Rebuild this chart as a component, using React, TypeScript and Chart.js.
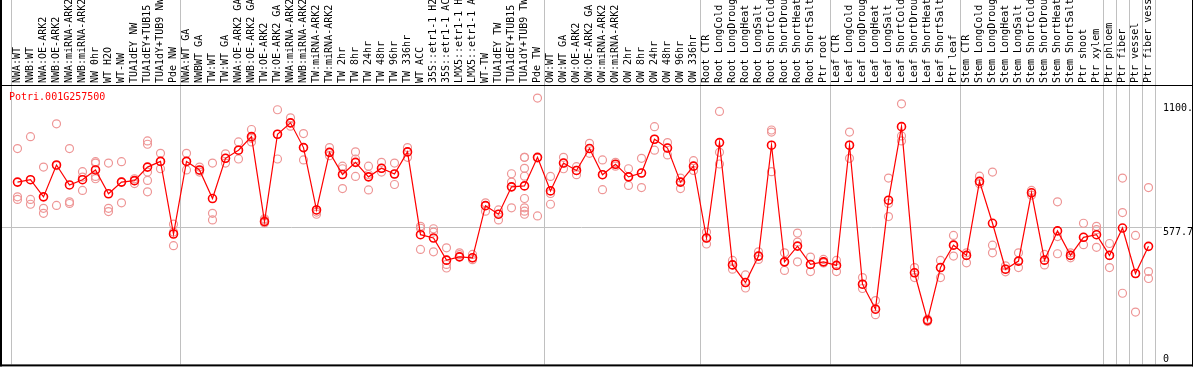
import { useEffect, useRef } from 'react';
import { Chart, registerables } from 'chart.js';

Chart.register(...registerables);

const geneId = 'Potri.001G257500';

const categories = [
  'NWA:WT', 'NWB:WT', 'NWA:OE-ARK2', 'NWB:OE-ARK2', 'NWA:miRNA-ARK2', 'NWB:miRNA-ARK2', 'NW 0hr', 'WT H2O', 'WT-NW', 'TUA1dEY NW', 'TUA1dEY+TUB15 NW', 'TUA1dY+TUB9 NW', 'Pde NW',
  'NWA:WT GA', 'NWBWT GA', 'TW:WT', 'TW:WT GA', 'NWA:OE-ARK2 GA', 'NWB:OE-ARK2 GA', 'TW:OE-ARK2', 'TW:OE-ARK2 GA', 'NWA:miRNA-ARK2 GA', 'NWB:miRNA-ARK2 GA', 'TW:miRNA-ARK2', 'TW:miRNA-ARK2 GA', 'TW 2hr', 'TW 8hr', 'TW 24hr', 'TW 48hr', 'TW 96hr', 'TW 336hr', 'WT ACC', '35S::etr1-1 H2O', '35S::etr1-1 ACC', 'LMX5::etr1-1 H2O', 'LMX5::etr1-1 ACC', 'WT-TW', 'TUA1dEY TW', 'TUA1dEY+TUB15 TW', 'TUA1dY+TUB9 TW', 'Pde TW',
  'OW:WT', 'OW:WT GA', 'OW:OE-ARK2', 'OW:OE-ARK2 GA', 'OW:miRNA-ARK2', 'OW:miRNA-ARK2 GA', 'OW 2hr', 'OW 8hr', 'OW 24hr', 'OW 48hr', 'OW 96hr', 'OW 336hr',
  'Root CTR', 'Root LongCold', 'Root LongDrought', 'Root LongHeat', 'Root LongSalt', 'Root ShortCold', 'Root ShortDrought', 'Root ShortHeat', 'Root ShortSalt', 'Ptr root',
  'Leaf CTR', 'Leaf LongCold', 'Leaf LongDrought', 'Leaf LongHeat', 'Leaf LongSalt', 'Leaf ShortCold', 'Leaf ShortDrought', 'Leaf ShortHeat', 'Leaf ShortSalt', 'Ptr leaf',
  'Stem CTR', 'Stem LongCold', 'Stem LongDrought', 'Stem LongHeat', 'Stem LongSalt', 'Stem ShortCold', 'Stem ShortDrought', 'Stem ShortHeat', 'Stem ShortSalt', 'Ptr shoot', 'Ptr xylem',
  'Ptr phloem', 'Ptr fiber', 'Ptr vessel', 'Ptr fiber vessel',
];

const groupSizes = [13, 28, 12, 10, 10, 11, 1, 1, 1, 1];

const meanValues = [
  766, 776, 704, 838, 754, 776, 817, 717, 766, 772, 829, 853, 548,
  853, 817, 697, 866, 900, 957, 600, 967, 1015, 911, 649, 891, 798, 849, 788, 824, 800, 893, 545, 531, 438, 452, 448, 667, 631, 746, 750, 870,
  729, 846, 815, 907, 797, 841, 788, 804, 946, 909, 766, 833,
  531, 932, 418, 344, 455, 921, 431, 497, 420, 431,
  416, 921, 337, 232, 690, 999, 385, 185, 407, 501,
  458, 769, 593, 400, 434, 721, 438, 561, 458, 534, 545,
  458, 573, 382, 496,
];

const replicateValues = [
  [907, 704, 693], [957, 693, 673], [829, 656, 635], [1011, 835, 668], [907, 683, 676], [810, 787, 731], [852, 846, 780, 790], [846, 656, 642], [852, 767, 679], [780, 772, 760], [939, 925, 808, 773, 725], [887, 853, 822], [589, 556, 499],
  [887, 853, 817], [829, 808, 815], [846, 635, 607], [846, 866, 885], [935, 900, 863], [987, 950, 935], [612, 607, 594], [1070, 967, 863], [1036, 1015, 1001], [970, 911, 859], [649, 640, 631], [911, 891, 877], [833, 822, 739], [893, 863, 790], [833, 798, 733], [849, 824, 808], [846, 800, 756], [911, 893, 870], [580, 572, 483], [570, 556, 473], [490, 438, 420, 405], [469, 461, 452], [462, 448, 440], [679, 667, 644], [649, 631, 607], [801, 766, 746, 658], [870, 870, 824, 791, 697, 658, 644, 631], [1119, 867, 624],
  [790, 718, 673], [870, 846, 822], [831, 815, 797], [929, 907, 887], [859, 797, 734], [849, 841, 833], [822, 788, 752], [866, 804, 743], [999, 946, 900], [932, 909, 880], [783, 766, 739], [856, 833, 815],
  [556, 531, 506], [1063, 891, 842], [437, 418, 400], [376, 344, 321], [473, 455, 441], [985, 976, 810], [469, 431, 395], [552, 514, 431], [451, 420, 390], [441, 431, 426],
  [437, 416, 390], [976, 921, 866], [365, 337, 319], [268, 232, 209], [783, 676, 621], [1095, 960, 939], [407, 385, 365], [190, 185, 180], [437, 407, 365], [542, 501, 455],
  [469, 458, 427], [791, 769, 759], [808, 501, 469], [414, 400, 389], [469, 434, 407], [731, 721, 711], [462, 438, 418], [683, 537, 465], [469, 458, 448], [593, 534, 503], [580, 566, 492],
  [508, 458, 407], [783, 638, 299], [542, 382, 220], [743, 390, 361],
];

const yMax = 1174;
const yTickValues = [0, 577.7, 1100];
const yTickLabels = ['0', '577.7', '1100.'];
const gridValue = 577.7;

const FONT = '10px "DejaVu Sans Mono", monospace';

const framePlugin = {
  id: 'frameDecor',
  beforeDatasetsDraw(chart: any) {
    const { ctx, chartArea, scales } = chart;
    const xs = scales.x;
    const ys = scales.y;
    ctx.save();
    ctx.strokeStyle = '#c0c0c0';
    ctx.lineWidth = 1;
    let idx = 0;
    const bounds = [0];
    groupSizes.forEach((s) => { idx += s; bounds.push(idx); });
    bounds.forEach((b) => {
      const px = Math.round(xs.getPixelForValue(b - 0.5)) + 0.5;
      ctx.beginPath();
      ctx.moveTo(px, 0);
      ctx.lineTo(px, chartArea.bottom);
      ctx.stroke();
    });
    const gy = Math.round(ys.getPixelForValue(gridValue)) + 0.5;
    ctx.beginPath();
    ctx.moveTo(1, gy);
    ctx.lineTo(chartArea.right + 7, gy);
    ctx.stroke();
    ctx.restore();
  },
  afterDraw(chart: any) {
    const { ctx, chartArea, scales, width } = chart;
    const ys = scales.y;
    ctx.save();
    ctx.fillStyle = '#000';
    // frame
    ctx.fillRect(0, 0, 2, chartArea.bottom + 2);
    ctx.fillRect(0, chartArea.top, width - 1, 1);
    ctx.fillRect(width - 2, 0, 1, chartArea.bottom + 2);
    ctx.fillRect(0, chartArea.bottom, width - 1, 2);
    // y labels
    ctx.font = FONT;
    ctx.textAlign = 'left';
    ctx.textBaseline = 'alphabetic';
    yTickValues.forEach((v, i) => {
      const py = ys.getPixelForValue(v);
      const base = Math.min(py + 8, chartArea.bottom - 2);
      ctx.fillText(yTickLabels[i], chartArea.right + 8, base);
    });
    // title
    ctx.fillStyle = '#ff0000';
    ctx.fillText(geneId, 9, chartArea.top + 15);
    ctx.restore();
  },
};

export default function App() {
  const canvasRef = useRef<HTMLCanvasElement | null>(null);

  useEffect(() => {
    document.body.style.margin = '0';
    const canvas = canvasRef.current;
    if (!canvas) return;
    const replicatePoints: { x: string; y: number }[] = [];
    replicateValues.forEach((row, i) => row.forEach((v) => replicatePoints.push({ x: categories[i], y: v })));

    const chart = new Chart(canvas, {
      type: 'line',
      data: {
        labels: categories,
        datasets: [
          {
            label: 'mean',
            data: meanValues,
            borderColor: '#ff0000',
            borderWidth: 1.2,
            pointRadius: 4,
            pointBorderWidth: 1.6,
            pointBorderColor: '#ff0000',
            pointBackgroundColor: 'rgba(0,0,0,0)',
            tension: 0,
            order: 0,
          },
          {
            label: 'replicates',
            data: replicatePoints as any,
            showLine: false,
            pointRadius: 4,
            pointBorderWidth: 1.2,
            pointBorderColor: 'rgb(238,150,150)',
            pointBackgroundColor: 'rgba(0,0,0,0)',
            order: 1,
          },
        ],
      },
      options: {
        animation: false,
        responsive: false,
        devicePixelRatio: 1,
        layout: { padding: { left: 11, right: 39, top: 0, bottom: 2 } },
        plugins: { legend: { display: false }, tooltip: { enabled: false } },
        scales: {
          x: {
            type: 'category',
            position: 'top',
            offset: true,
            grid: { display: false, drawTicks: false },
            border: { display: false },
            ticks: {
              autoSkip: false,
              minRotation: 90,
              maxRotation: 90,
              padding: 2,
              labelOffset: 12,
              color: '#000',
              font: { family: '"DejaVu Sans Mono", monospace', size: 10 },
            },
            afterFit: (s: any) => { s.height = 85; },
          },
          y: {
            type: 'linear',
            display: false,
            min: 0,
            max: yMax,
          },
        },
      },
      plugins: [framePlugin],
    });
    return () => chart.destroy();
  }, []);

  return (
    <div style={{ width: 1194, height: 370 }}>
      <canvas ref={canvasRef} width={1194} height={370} style={{ display: 'block' }} />
    </div>
  );
}
